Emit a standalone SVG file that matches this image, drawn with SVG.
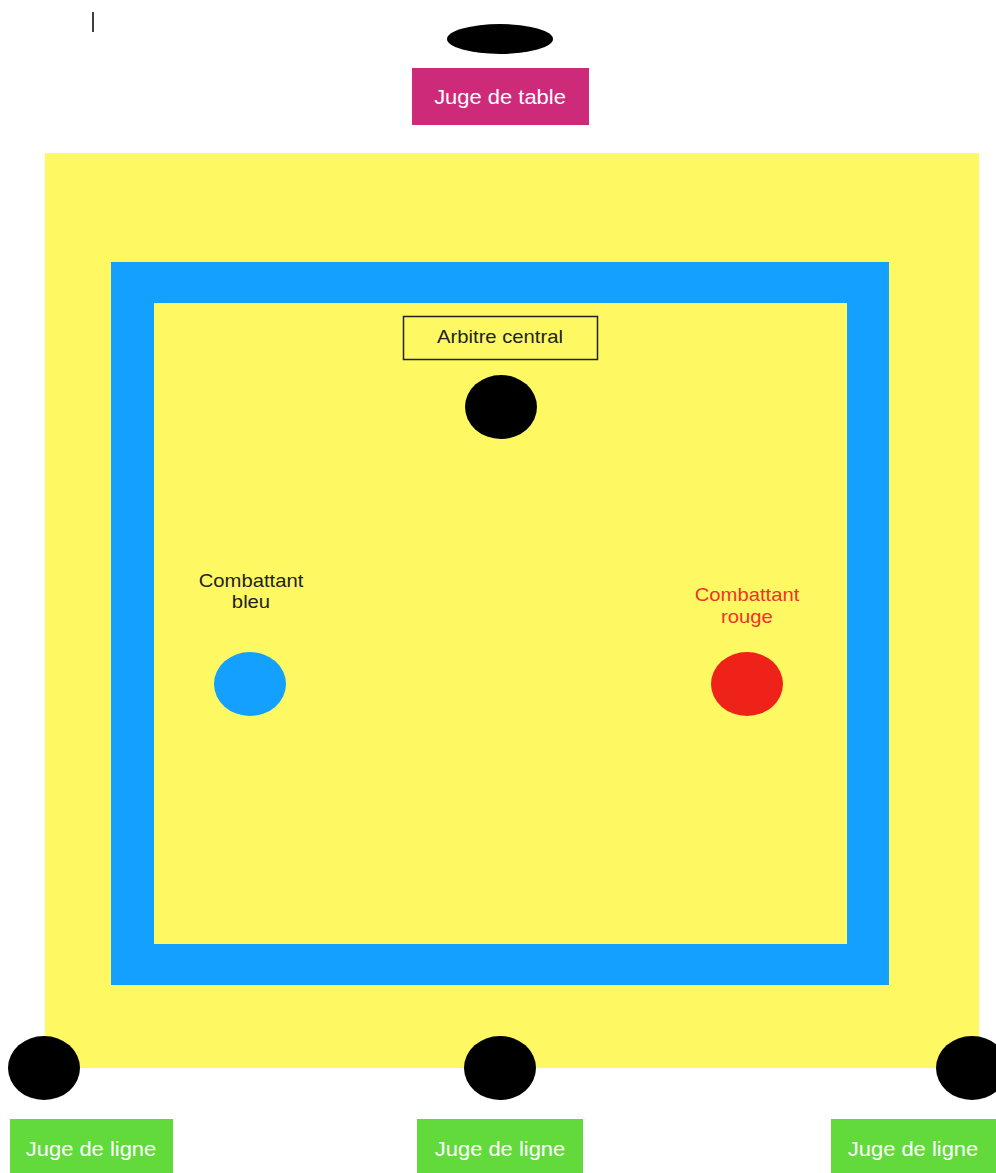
<svg xmlns="http://www.w3.org/2000/svg" width="996" height="1173" viewBox="0 0 996 1173">
<style>
.t{font-family:"Liberation Sans",Arial,sans-serif;text-anchor:middle}
.w{fill:#ffffff;font-size:19.5px}
.d{fill:#222222;font-size:18px}
.r{fill:#F0332A;font-size:18px}
.blk{fill:#000000}
.green{fill:#62DA3B}
</style>
<rect width="996" height="1173" fill="#ffffff"/>
<line x1="93" y1="12" x2="93" y2="32" stroke="#000" stroke-width="1.5"/>
<g id="mat">
<rect x="45" y="153" width="934" height="915" fill="#FEF962"/>
<rect x="111" y="262" width="778" height="723" fill="#13A0FE"/>
<rect x="154" y="303" width="693" height="641" fill="#FEF962"/>
</g>
<g id="connectors"></g>
<g id="juge-table-seat"><ellipse class="blk" cx="500" cy="39" rx="53" ry="15"/></g>
<g id="juge-table"><rect x="412" y="68" width="177" height="57" fill="#CE2A7A"/><text class="t w" transform="translate(500,104) scale(1.125,1)">Juge de table</text></g>
<g id="arbitre-label"><rect x="403.5" y="316.5" width="194" height="43" fill="none" stroke="#222" stroke-width="1.5"/><text class="t d" transform="translate(500,343) scale(1.125,1)">Arbitre central</text></g>
<g id="arbitre"><ellipse class="blk" cx="501" cy="407" rx="36" ry="32"/></g>
<g id="bleu-label"><text class="t d" transform="translate(251,587) scale(1.125,1)">Combattant</text><text class="t d" transform="translate(251,608) scale(1.125,1)">bleu</text></g>
<g id="bleu"><ellipse cx="250" cy="684" rx="36" ry="32" fill="#13A0FE"/></g>
<g id="rouge-label"><text class="t r" transform="translate(747,601) scale(1.125,1)">Combattant</text><text class="t r" transform="translate(747,623) scale(1.125,1)">rouge</text></g>
<g id="rouge"><ellipse cx="747" cy="684" rx="36" ry="32" fill="#EE2219"/></g>
<g id="ligne-1-seat"><ellipse class="blk" cx="44" cy="1068" rx="36" ry="32"/></g>
<g id="ligne-2-seat"><ellipse class="blk" cx="500" cy="1068" rx="36" ry="32"/></g>
<g id="ligne-3-seat"><ellipse class="blk" cx="972" cy="1068" rx="36" ry="32"/></g>
<g id="ligne-1"><rect class="green" x="10" y="1119" width="163" height="54"/><text class="t w" transform="translate(91,1156) scale(1.125,1)">Juge de ligne</text></g>
<g id="ligne-2"><rect class="green" x="417" y="1119" width="166" height="54"/><text class="t w" transform="translate(500,1156) scale(1.125,1)">Juge de ligne</text></g>
<g id="ligne-3"><rect class="green" x="831" y="1119" width="165" height="54"/><text class="t w" transform="translate(913,1156) scale(1.125,1)">Juge de ligne</text></g>
</svg>
